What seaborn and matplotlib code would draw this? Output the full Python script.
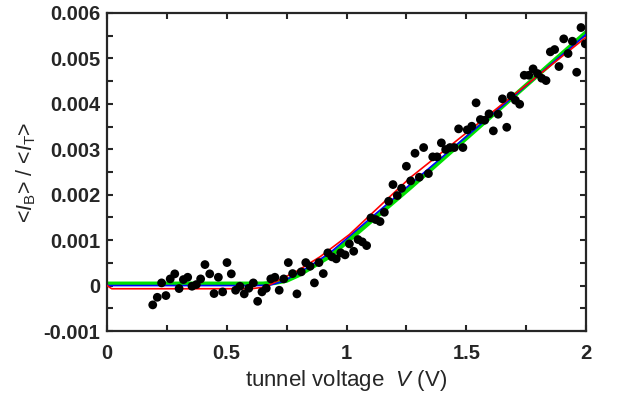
import numpy as np
import matplotlib
matplotlib.use("Agg")
import matplotlib.pyplot as plt
import matplotlib.ticker as mticker
import pandas as pd
import seaborn as sns

# measured points: tunnel voltage (V) and <I_B>/<I_T> (in units of 1e-3)
volts = [0.191, 0.210, 0.228, 0.246, 0.264, 0.283, 0.301, 0.319, 0.337, 0.355,
         0.373, 0.391, 0.409, 0.429, 0.447, 0.465, 0.483, 0.501, 0.519, 0.537,
         0.555, 0.573, 0.592, 0.611, 0.629, 0.647, 0.665, 0.684, 0.701, 0.719,
         0.738, 0.757, 0.775, 0.793, 0.811, 0.830, 0.848, 0.866, 0.885, 0.903,
         0.922, 0.939, 0.957, 0.976, 0.994, 1.012, 1.030, 1.048, 1.066, 1.084,
         1.102, 1.122, 1.140, 1.158, 1.176, 1.194, 1.212, 1.230, 1.250, 1.268,
         1.286, 1.304, 1.322, 1.342, 1.360, 1.378, 1.396, 1.414, 1.432, 1.450,
         1.468, 1.486, 1.504, 1.523, 1.541, 1.559, 1.577, 1.595, 1.613, 1.633,
         1.651, 1.669, 1.687, 1.705, 1.723, 1.742, 1.761, 1.779, 1.797, 1.815,
         1.833, 1.851, 1.869, 1.887, 1.907, 1.925, 1.943, 1.961, 1.979, 1.997]
ratio_e3 = [-0.425, -0.258, 0.059, -0.220, 0.147, 0.258, -0.066, 0.132, 0.183, -0.015,
            0.022, 0.147, 0.462, 0.258, -0.176, 0.183, -0.139, 0.506, 0.258, -0.103,
            -0.015, -0.183, -0.059, 0.059, -0.346, -0.139, -0.059, 0.147, 0.183, -0.103,
            0.147, 0.506, 0.264, -0.183, 0.302, 0.506, 0.425, 0.059, 0.506, 0.264,
            0.720, 0.632, 0.588, 0.720, 0.676, 0.918, 0.755, 1.013, 0.962, 0.880,
            1.490, 1.453, 1.409, 1.613, 1.856, 2.223, 1.981, 2.142, 2.626, 2.305,
            2.912, 2.384, 3.038, 2.465, 2.833, 2.833, 3.141, 2.994, 3.038, 3.038,
            3.449, 3.038, 3.427, 3.507, 4.022, 3.654, 3.639, 3.779, 3.405, 3.771,
            4.110, 3.484, 4.176, 4.079, 3.991, 4.629, 4.629, 4.770, 4.667, 4.563,
            4.512, 5.144, 5.195, 4.821, 5.430, 5.107, 5.378, 4.695, 5.679, 5.320]

# fitted curves (1e-3 units)
green_v = [0.0, 0.65, 0.70, 0.75, 0.80, 0.86, 0.931, 1.265, 2.0]
green_y = [0.04, 0.04, 0.06, 0.11, 0.23, 0.42, 0.645, 2.15, 5.57]
blue_v = [0.0, 0.62, 0.68, 0.735, 0.79, 0.85, 0.931, 1.265, 2.0]
blue_y = [0.0, 0.0, 0.01, 0.09, 0.25, 0.44, 0.72, 2.223, 5.525]
red_v = [0.0, 0.02, 0.60, 0.65, 0.681, 0.722, 0.792, 0.889, 1.012, 1.265, 1.6, 2.0]
red_y = [0.0, -0.07, -0.07, -0.04, 0.022, 0.132, 0.315, 0.632, 1.123, 2.371, 3.78, 5.466]

sns.set_style("ticks")
plt.rcParams["font.family"] = ["Liberation Sans", "DejaVu Sans"]
plt.rcParams["mathtext.fontset"] = "custom"
plt.rcParams["mathtext.rm"] = "Liberation Sans"
plt.rcParams["mathtext.it"] = "Liberation Sans:italic"
plt.rcParams["axes.unicode_minus"] = False

pts = pd.DataFrame({"V": volts, "r": np.array(ratio_e3) * 1e-3})

fig = plt.figure(figsize=(6.17, 4.05), dpi=100)
ax = fig.add_axes([0.1734, 0.1827, 0.7764, 0.7853])

sns.lineplot(x=green_v, y=np.array(green_y) * 1e-3, color="#00e000", lw=3.2, ax=ax, zorder=2)
sns.lineplot(x=blue_v, y=np.array(blue_y) * 1e-3, color="#0000ff", lw=1.2, ax=ax, zorder=3)
sns.lineplot(x=red_v, y=np.array(red_y) * 1e-3, color="#ff0000", lw=1.2, ax=ax, zorder=4)
sns.scatterplot(data=pts, x="V", y="r", color="black", s=40, edgecolor="none", ax=ax, zorder=5)

ax.set_xlim(0, 2)
ax.set_ylim(-0.001, 0.006)
ax.xaxis.set_major_locator(mticker.MultipleLocator(0.5))
ax.xaxis.set_minor_locator(mticker.MultipleLocator(0.25))
ax.yaxis.set_major_locator(mticker.MultipleLocator(0.001))
ax.yaxis.set_minor_locator(mticker.MultipleLocator(0.0005))
ax.xaxis.set_major_formatter(mticker.FuncFormatter(lambda v, p: "%g" % v))
ax.yaxis.set_major_formatter(mticker.FuncFormatter(
    lambda v, p: "0" if abs(v) < 1e-9 else "%.3f" % v))

ax.tick_params(which="both", direction="in", top=True, right=True,
               length=4, width=1.5)
ax.tick_params(axis="x", pad=9, labelsize=14.5)
ax.tick_params(axis="y", pad=5, labelsize=14.5)
for lab in ax.get_xticklabels() + ax.get_yticklabels():
    lab.set_fontweight("bold")
for s in ax.spines.values():
    s.set_linewidth(1.6)
    s.set_visible(True)

ax.set_xlabel("tunnel voltage  $V$ (V)", fontsize=16, labelpad=4)
ax.set_ylabel(r"<$I_\mathrm{B}$> / <$I_\mathrm{T}$>", fontsize=15.5, labelpad=4)

fig.savefig("out.png", dpi=100)
